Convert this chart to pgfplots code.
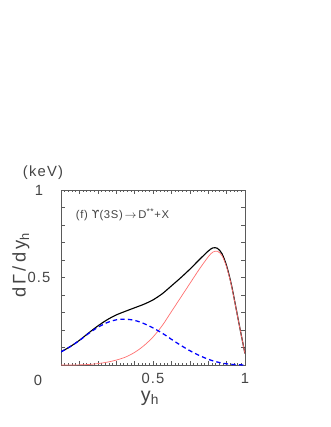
\documentclass[border=0pt]{standalone}
\usepackage{pgfplots}
\pgfplotsset{compat=1.18}
\usepackage{pgfplotstable}
\usepackage{fontspec}
\setmainfont{Liberation Sans}
\newfontfamily\dejavu{DejaVu Sans}

\definecolor{txt}{HTML}{444444}
\definecolor{frame}{HTML}{5A5A5A}
\definecolor{pinkred}{HTML}{FF7070}

% x, D** from c-quark fragmentation (red), gluon part (blue), sum (black)
\pgfplotstableread{
x     red    blue   black
0.000 0.000  0.075  0.075
0.050 0.000  0.105  0.105
0.100 0.001  0.140  0.141
0.150 0.003  0.180  0.183
0.200 0.008  0.215  0.223
0.250 0.016  0.242  0.258
0.300 0.028  0.258  0.286
0.350 0.045  0.262  0.307
0.400 0.072  0.255  0.327
0.450 0.110  0.237  0.347
0.500 0.160  0.212  0.372
0.550 0.225  0.182  0.407
0.600 0.305  0.147  0.452
0.650 0.385  0.113  0.498
0.700 0.465  0.082  0.547
0.750 0.545  0.055  0.600
0.800 0.618  0.033  0.651
0.825 0.645  0.024  0.669
0.850 0.650  0.017  0.667
0.875 0.625  0.011  0.636
0.900 0.560  0.007  0.567
0.925 0.460  0.004  0.464
0.950 0.330  0.002  0.332
0.975 0.195  0.001  0.196
1.000 0.065  0.000  0.065
}\data

\begin{document}
\begin{tikzpicture}
\path[use as bounding box] (0,0) rectangle (8.25cm,-10.675cm);
\begin{axis}[
  at={(1.525cm,-9.125cm)}, anchor=south west,
  scale only axis, width=4.6cm, height=4.375cm,
  xmin=0, xmax=1, ymin=0, ymax=1,
  xtick={0,0.1,0.2,0.3,0.4,0.5,0.6,0.7,0.8,0.9,1},
  ytick={0,0.1,0.2,0.3,0.4,0.5,0.6,0.7,0.8,0.9,1},
  xticklabels={,,,,,0.5,,,,,1},
  yticklabels={,,,,,0.5,,,,,1},
  minor x tick num=4,
  tick align=inside,
  major tick length=1mm, minor tick length=0.55mm,
  axis line style={draw=frame, line width=0.6pt},
  every tick/.style={frame, line width=0.4pt},
  tick label style={font=\fontsize{10.5}{12}\selectfont\addfontfeature{LetterSpace=8}, text=txt},
  xticklabel style={anchor=center, yshift=-0.325cm},
  yticklabel style={anchor=center, xshift=-0.55cm},
  xlabel={y\textsubscript{h}},
  xlabel style={at={(rel axis cs:0.484,-0.19)}, anchor=center, font=\fontsize{14}{16}\selectfont, text=txt},
  ylabel={dΓ/dy\textsubscript{h}},
  ylabel style={at={(rel axis cs:-0.218,0.571)}, anchor=center, font=\fontsize{13}{15}\selectfont\addfontfeature{LetterSpace=18}, text=txt},
  clip mode=individual,
]
\addplot[black, line width=0.8pt, smooth] table[x=x, y=black] {\data};
\addplot[pinkred, line width=0.5pt, smooth] table[x=x, y=red] {\data};
\addplot[blue, line width=0.9pt, dash pattern=on 1.1mm off 0.8mm, smooth] table[x=x, y=blue] {\data};

\node[anchor=center, text=txt, font=\fontsize{10.5}{12}\selectfont] at (rel axis cs:-0.125,-0.086) {0};
\node[anchor=center, text=txt, font=\fontsize{10.5}{12}\selectfont\addfontfeature{LetterSpace=8}] at (rel axis cs:-0.098,1.097) {(keV)};
\node[anchor=west, text=txt, font=\fontsize{8}{9}\selectfont\addfontfeature{LetterSpace=6}] at (rel axis cs:0.054,0.857)
  {(f) {\dejavu ϒ}(3S)\,$\rightarrow$\,D\textsuperscript{**}+X};
\end{axis}
\end{tikzpicture}
\end{document}
